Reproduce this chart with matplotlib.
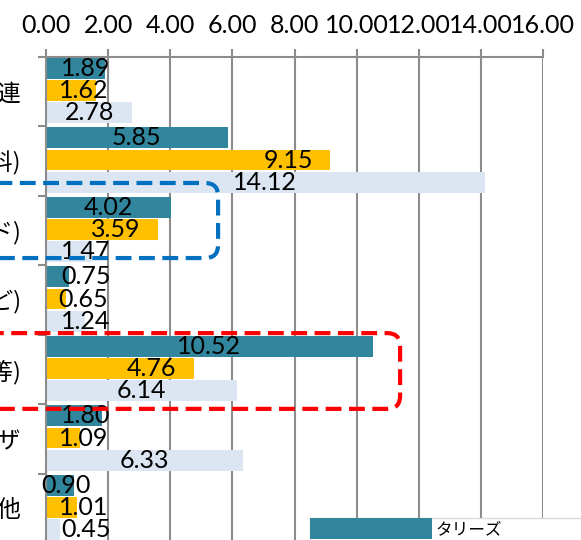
import numpy as np
import matplotlib
matplotlib.use('Agg')
import matplotlib.pyplot as plt
from matplotlib.patches import FancyBboxPatch, Patch

plt.rcParams['font.family'] = ['Lato', 'Noto Sans CJK JP', 'DejaVu Sans']

# データ
categories = ['コーヒー関連', 'ドリンク(飲料)', '食事(フード)', '物販(グッズなど)',
              '店舗(接客等)', 'ピザ', 'その他']
series_names = ['タリーズ', 'ドトール', 'スターバックスコーヒー']
tullys = [1.89, 5.85, 4.02, 0.75, 10.52, 1.80, 0.90]
doutor = [1.62, 9.15, 3.59, 0.65, 4.76, 1.09, 1.01]
starbucks = [2.78, 14.12, 1.47, 1.24, 6.14, 6.33, 0.45]
xticks = [0, 2, 4, 6, 8, 10, 12, 14, 16]

colors = ['#31859C', '#FFC000', '#DCE6F2']
grid_c = '#8C8C8C'

W, H = 581, 540
fig = plt.figure(figsize=(W / 100, H / 100), dpi=100)
top_px, bot_px, left_px, right_px = 56.5, 543.0, 46.0, 543.0
ax = fig.add_axes([left_px / W, 1 - bot_px / H, (right_px - left_px) / W, (bot_px - top_px) / H])

n = len(categories)
idx = np.arange(n)
offsets = [0.17, 0.49, 0.81]
bh = 0.30
all_vals = [tullys, doutor, starbucks]

for s, vals in enumerate(all_vals):
    ax.barh(idx + offsets[s], vals, height=bh, color=colors[s], zorder=2)

# データラベル
fs = 18
for s, vals in enumerate(all_vals):
    for i, v in enumerate(vals):
        if s == 1:
            xr = max(v - 0.56, 2.0)
            ax.text(xr, i + offsets[s], '%.2f' % v, ha='right', va='center',
                    fontsize=fs, color='black', zorder=4)
        else:
            xc = max(v / 2, 1.28)
            if s == 0 and i == 6:
                xc = 0.63
            ax.text(xc, i + offsets[s], '%.2f' % v, ha='center', va='center',
                    fontsize=fs, color='black', zorder=4)

ax.set_xlim(0, 16)
ax.set_ylim(n, 0)
ax.xaxis.tick_top()
ax.set_xticks(xticks)
ax.set_xticklabels(['%.2f' % t for t in xticks], fontsize=fs)
ax.tick_params(axis='x', length=6, width=1.5, color=grid_c, pad=8)
ax.grid(axis='x', color=grid_c, linewidth=1.5, zorder=0)
ax.set_axisbelow(True)

ax.set_yticks(np.arange(n + 1))
ax.set_yticklabels([])
ax.set_yticks(idx + 0.5, minor=True)
ax.set_yticklabels(categories, minor=True, fontsize=17, family='Noto Sans CJK JP')
ax.tick_params(axis='y', which='major', length=6, width=1.5, color=grid_c)
ax.tick_params(axis='y', which='minor', length=0, pad=18)

for sp in ['right', 'bottom']:
    ax.spines[sp].set_visible(False)
for sp in ['top', 'left']:
    ax.spines[sp].set_color(grid_c)
    ax.spines[sp].set_linewidth(1.5)


# 強調の点線枠
def dashed_box(x0, y0, x1, y1, color):
    fig.canvas.draw()
    p0 = ax.transData.transform((x0, y1))
    p1 = ax.transData.transform((x1, y0))
    inv = fig.dpi_scale_trans.inverted()
    a = inv.transform(p0)
    b = inv.transform(p1)
    box = FancyBboxPatch((a[0], a[1]), b[0] - a[0], b[1] - a[1],
                         boxstyle='round,pad=0,rounding_size=0.13',
                         transform=fig.dpi_scale_trans, fill=False,
                         edgecolor=color, linewidth=3, linestyle=(0, (3.8, 1.8)),
                         clip_on=False, zorder=5)
    fig.add_artist(box)


dashed_box(-3, 1.82, 5.54, 2.90, '#0070C0')
dashed_box(-3, 3.98, 11.4, 5.07, '#FF0000')

handles = [Patch(facecolor=c, edgecolor='none') for c in colors]
fig.legend(handles, series_names, loc='upper left',
           bbox_to_anchor=(310 / W, 1 - 518 / H), borderpad=0, borderaxespad=0,
           handlelength=7.3, handleheight=1.6, handletextpad=0.2,
           fontsize=12, frameon=True, fancybox=False, edgecolor='#D9D9D9',
           framealpha=1)

fig.savefig('out.png', dpi=100)
